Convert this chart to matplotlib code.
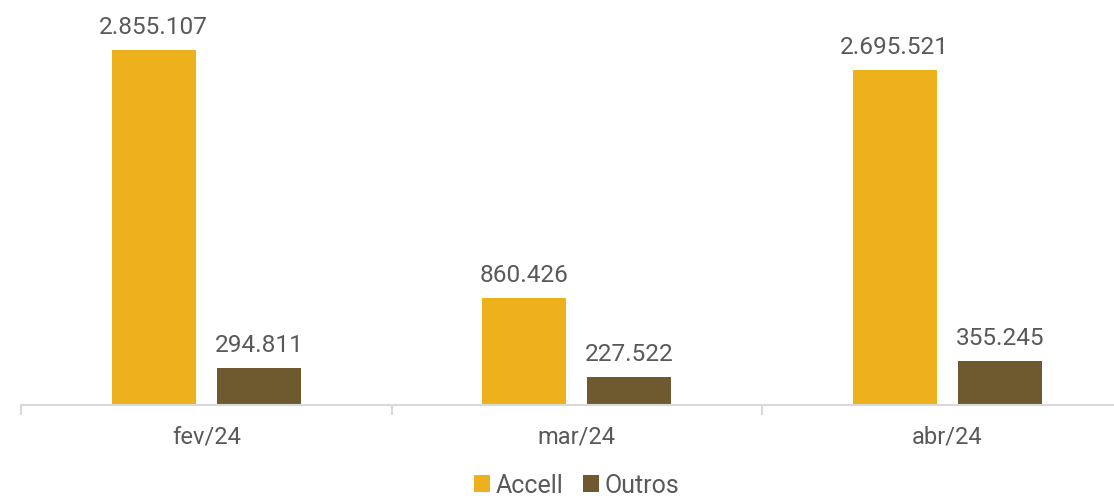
import matplotlib.pyplot as plt
import numpy as np

plt.rcParams['font.family'] = ['Roboto', 'DejaVu Sans']

months = ['fev/24', 'mar/24', 'abr/24']
accell = [2855107, 860426, 2695521]
outros = [294811, 227522, 355245]

def fmt(v):
    return f'{v:,}'.replace(',', '.')

fig = plt.figure(figsize=(11.14, 5.01), dpi=100)
# the source chart is cut off on the right, so the axes runs past the figure edge
ax = fig.add_axes([21 / 1114, 96 / 501, 1111.5 / 1114, 405 / 501])

x = np.arange(len(months))
w = 0.227
off = 0.142
b1 = ax.bar(x - off, accell, w, color='#EDB11E', label='Accell')
b2 = ax.bar(x + off, outros, w, color='#6E5A2E', label='Outros')

for bars, vals in [(b1, accell), (b2, outros)]:
    for r, v in zip(bars, vals):
        ax.annotate(fmt(v), (r.get_x() + r.get_width() / 2, v),
                    xytext=(0, 8), textcoords='offset points',
                    ha='center', va='bottom', fontsize=17.6, color='#595959')

ax.set_xlim(-0.5, 2.5)
ax.set_ylim(0, 405 / 355 * 2855107)
for s in ['top', 'left', 'right']:
    ax.spines[s].set_visible(False)
ax.spines['bottom'].set_color('#D9D9D9')
ax.spines['bottom'].set_linewidth(1.5)
ax.set_yticks([])
ax.set_xticks(x)
ax.set_xticklabels(months, fontsize=17, color='#595959')
ax.tick_params(axis='x', which='major', length=0, pad=15)
ax.set_xticks([-0.5, 0.5, 1.5, 2.5], minor=True)
ax.tick_params(axis='x', which='minor', length=7, width=1.5, color='#D9D9D9')

fig.legend(loc='lower center', bbox_to_anchor=(576.5 / 1114, -0.038), ncol=2, frameon=False,
           fontsize=18, labelcolor='#595959', handlelength=0.65, handleheight=0.65,
           handletextpad=0.2, columnspacing=0.8)

fig.savefig('out.png', dpi=100)
